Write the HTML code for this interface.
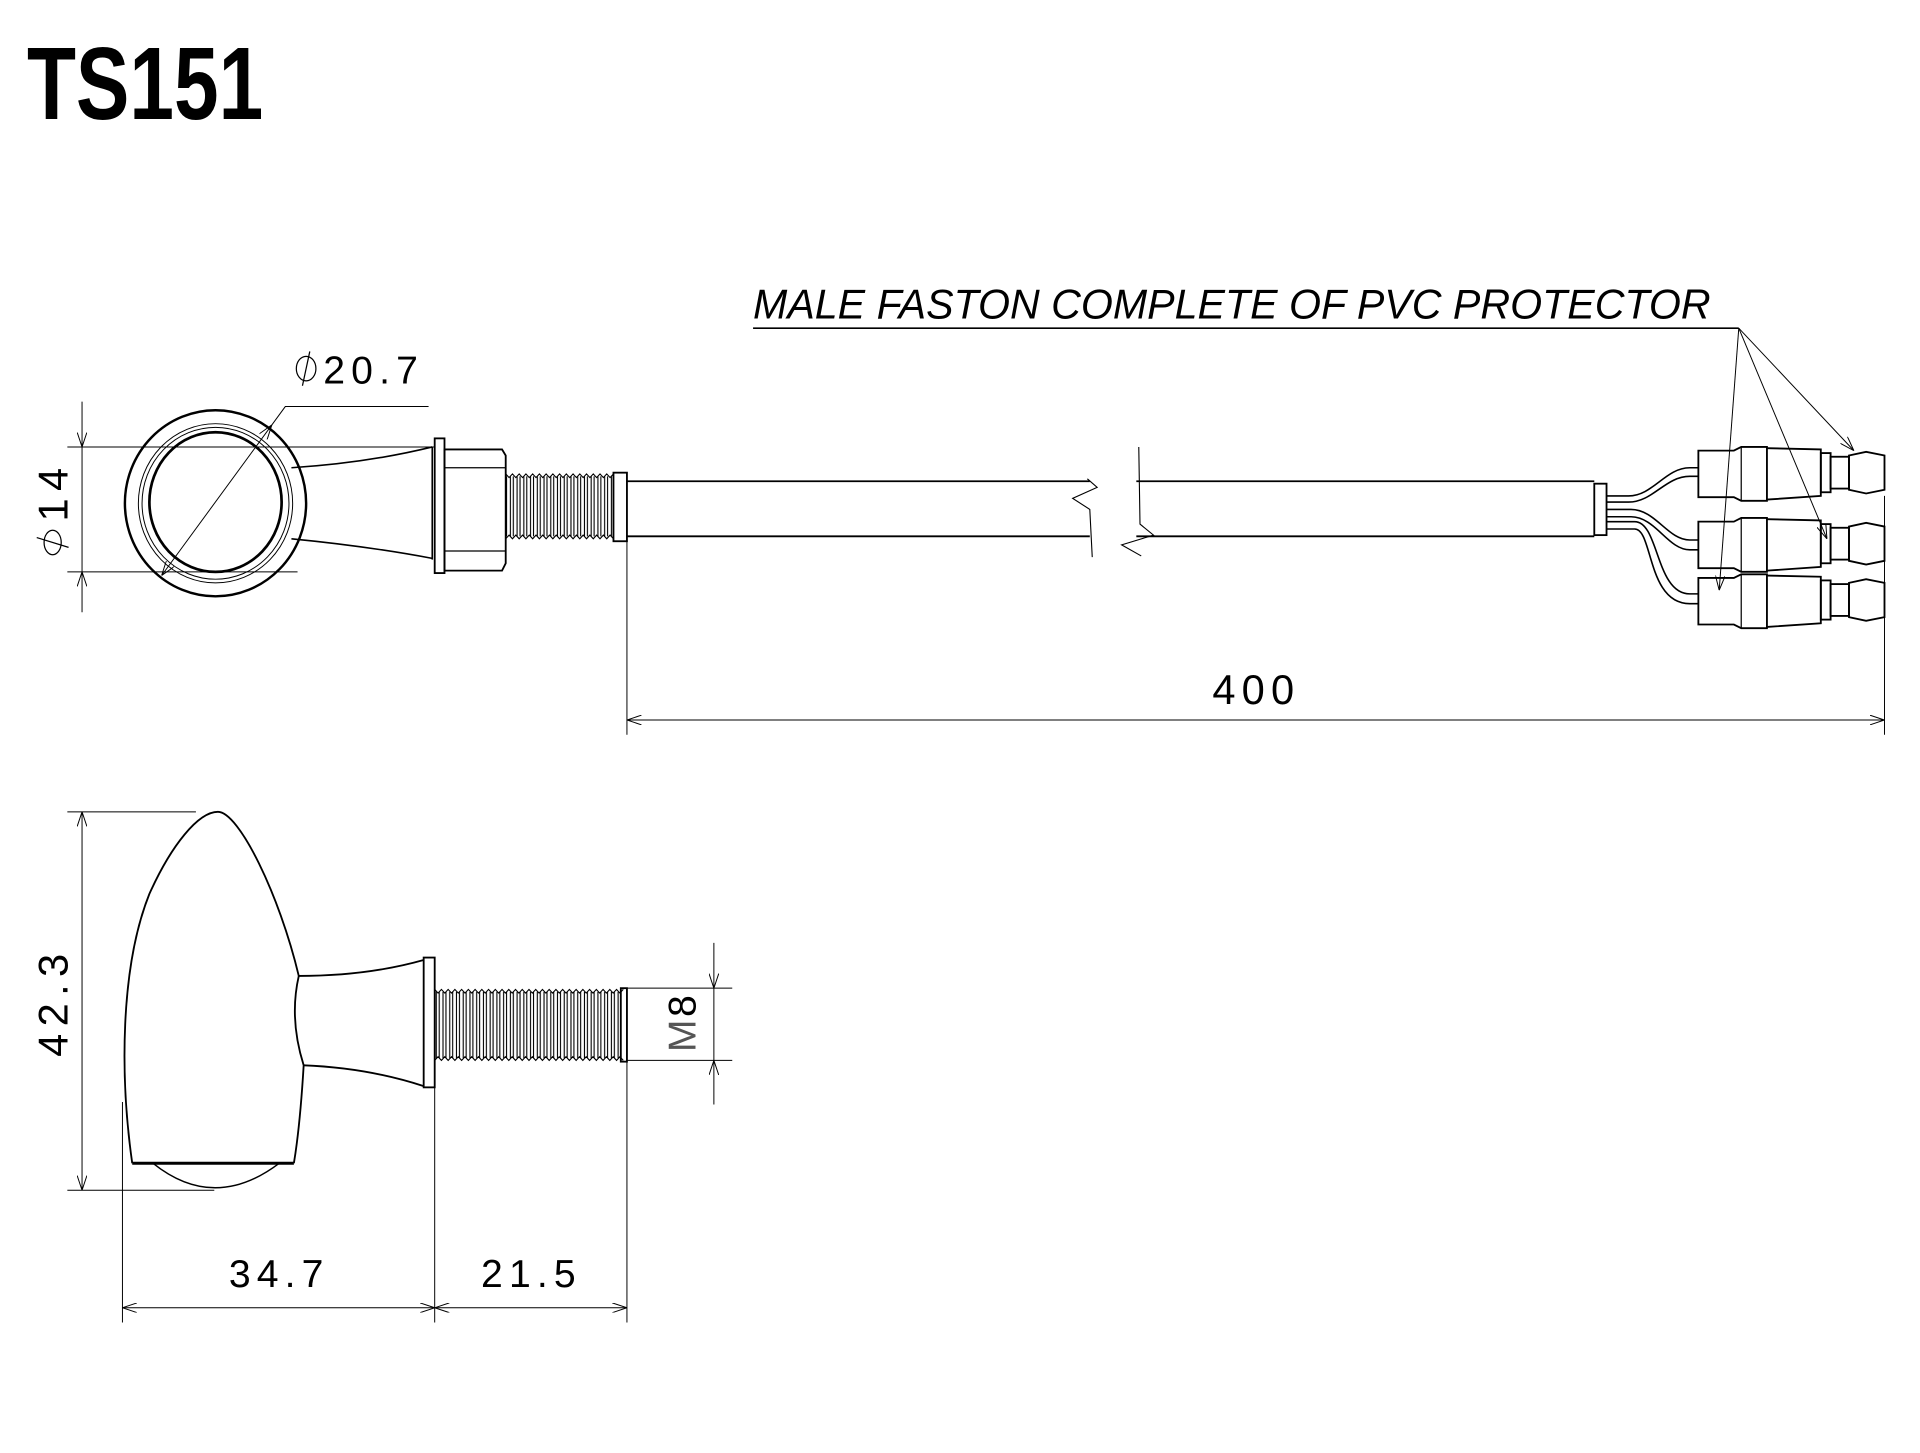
<!DOCTYPE html>
<html><head><meta charset="utf-8"><style>
html,body{margin:0;padding:0;background:#fff}
svg{display:block}
text{font-family:"Liberation Sans",sans-serif;fill:#000}
</style></head><body>
<svg width="1920" height="1453" viewBox="0 0 1568 1186.6" xmlns="http://www.w3.org/2000/svg">
<defs>
<marker id="ar" viewBox="0 0 12 8" refX="12" refY="4" markerWidth="12" markerHeight="8" markerUnits="userSpaceOnUse" orient="auto-start-reverse">
<path d="M0,0 L12,4 L0,8" fill="none" stroke="#000" stroke-width="0.8"/></marker>
<pattern id="thr" x="0" y="0" width="5.5" height="2000" patternUnits="userSpaceOnUse">
<path d="M1.2,0 L1.2,2000 M4.3,0 L4.3,2000" fill="none" stroke="#000" stroke-width="0.9"/></pattern>
</defs>
<text x="22" y="97" font-size="84" font-weight="bold" textLength="193" lengthAdjust="spacingAndGlyphs">TS151</text>

<!-- TOP VIEW -->
<g fill="none" stroke="#000">
<ellipse cx="176" cy="411" rx="74" ry="76" stroke-width="2"/>
<ellipse cx="176" cy="411" rx="63" ry="65" stroke-width="0.8"/>
<ellipse cx="176" cy="411" rx="60" ry="62" stroke-width="0.8"/>
<ellipse cx="176" cy="410" rx="54" ry="57" stroke-width="2.2"/>
<path d="M238,382 Q300,378 353,365" stroke-width="1.3"/>
<path d="M238,440 Q300,446 353,456" stroke-width="1.3"/>
<line x1="353" y1="365" x2="353" y2="457" stroke-width="1.3"/>
<rect x="355" y="358" width="8" height="110" stroke-width="1.5"/>
<path d="M363,367 L410,367 L413,372 L413,460 L410,466 L363,466 Z" stroke-width="1.5"/>
<line x1="363" y1="382" x2="413" y2="382" stroke-width="1"/>
<line x1="363" y1="450" x2="413" y2="450" stroke-width="1"/>
</g>
<rect x="413" y="389" width="88" height="49" fill="url(#thr)"/>
<g fill="none" stroke="#000">
<path d="M413,387 l2.75,3 l2.75,-3 l2.75,3 l2.75,-3 l2.75,3 l2.75,-3 l2.75,3 l2.75,-3 l2.75,3 l2.75,-3 l2.75,3 l2.75,-3 l2.75,3 l2.75,-3 l2.75,3 l2.75,-3 l2.75,3 l2.75,-3 l2.75,3 l2.75,-3 l2.75,3 l2.75,-3 l2.75,3 l2.75,-3 l2.75,3 l2.75,-3 l2.75,3 l2.75,-3 l2.75,3 l2.75,-3 l2.75,3 l2.75,-3" stroke-width="0.9"/>
<path d="M413,440 l2.75,-3 l2.75,3 l2.75,-3 l2.75,3 l2.75,-3 l2.75,3 l2.75,-3 l2.75,3 l2.75,-3 l2.75,3 l2.75,-3 l2.75,3 l2.75,-3 l2.75,3 l2.75,-3 l2.75,3 l2.75,-3 l2.75,3 l2.75,-3 l2.75,3 l2.75,-3 l2.75,3 l2.75,-3 l2.75,3 l2.75,-3 l2.75,3 l2.75,-3 l2.75,3 l2.75,-3 l2.75,3 l2.75,-3 l2.75,3" stroke-width="0.9"/>
<rect x="501" y="386" width="11" height="56" stroke-width="1.5"/>
<line x1="512" y1="393" x2="890" y2="393" stroke-width="1.5"/>
<line x1="512" y1="438" x2="890" y2="438" stroke-width="1.5"/>
<line x1="928" y1="393" x2="1302" y2="393" stroke-width="1.5"/>
<line x1="928" y1="438" x2="1302" y2="438" stroke-width="1.5"/>
<path d="M892,455 L890,416 L876,407 L896,398 L888,391" stroke-width="0.9"/>
<path d="M930,365 L931,428 L942,437 L916,445 L932,454" stroke-width="0.9"/>
<rect x="1302" y="395" width="10" height="42" stroke-width="1.5"/>
<path d="M1312,405 L1330,405 C1350,405 1360,382 1380,382 L1387,382" stroke-width="1.3"/>
<path d="M1312,410 L1330,410 C1350,410 1360,389 1380,389 L1387,389" stroke-width="1.3"/>
<path d="M1312,416 L1332,416 C1352,416 1362,441 1380,441 L1387,441" stroke-width="1.3"/>
<path d="M1312,422 L1332,422 C1352,422 1362,449 1380,449 L1387,449" stroke-width="1.3"/>
<path d="M1312,426 L1335,426 C1355,426 1352,485 1380,485 L1387,485" stroke-width="1.3"/>
<path d="M1312,432 L1335,432 C1350,432 1345,493 1380,493 L1387,493" stroke-width="1.3"/>
</g>
<g id="con" fill="none" stroke="#000" stroke-width="1.5">
<path d="M1387,368 L1416,368 L1422,365 L1443,365 L1443,409 L1422,409 L1416,406 L1387,406 Z"/>
<line x1="1422" y1="365" x2="1422" y2="409" stroke-width="1"/>
<path d="M1443,366 L1487,367 L1487,405 L1443,408"/>
<rect x="1487" y="370" width="8" height="32"/>
<rect x="1495" y="373" width="15" height="26"/>
<path d="M1510,372 L1524,369 L1539,372 L1539,400 L1524,403 L1510,400 Z"/>
</g>
<use href="#con" transform="translate(0,58)"/>
<use href="#con" transform="translate(0,104)"/>

<g stroke="#000" stroke-width="0.8" fill="none">
<line x1="55" y1="365" x2="355" y2="365"/>
<line x1="55" y1="467" x2="243" y2="467"/>
<line x1="67" y1="328" x2="67" y2="365" marker-end="url(#ar)"/>
<line x1="67" y1="500" x2="67" y2="467" marker-end="url(#ar)"/>
<line x1="67" y1="365" x2="67" y2="467"/>
<line x1="132" y1="470" x2="222" y2="347" marker-start="url(#ar)" marker-end="url(#ar)"/>
<polyline points="222,347 233,332 350,332"/>
<line x1="512" y1="442" x2="512" y2="600"/>
<line x1="1539" y1="405" x2="1539" y2="600"/>
<line x1="512" y1="588" x2="1539" y2="588" marker-start="url(#ar)" marker-end="url(#ar)"/>
<line x1="615" y1="268" x2="1420" y2="268" stroke-width="1.3"/>
<line x1="1420" y1="268" x2="1404" y2="482" marker-end="url(#ar)"/>
<line x1="1420" y1="268" x2="1492" y2="440" marker-end="url(#ar)"/>
<line x1="1420" y1="268" x2="1514" y2="368" marker-end="url(#ar)"/>
</g>
<text font-size="34" letter-spacing="6" transform="translate(55,401) rotate(-90)" text-anchor="middle">14</text>
<g transform="translate(43,443)" fill="none" stroke="#000" stroke-width="1"><ellipse cx="0" cy="0" rx="7" ry="10"/><line x1="-13" y1="-4" x2="13" y2="4"/></g>
<g transform="translate(250,301)" fill="none" stroke="#000" stroke-width="1"><ellipse cx="0" cy="0" rx="8" ry="10"/><line x1="3" y1="-14" x2="-3" y2="14"/></g>
<text x="264" y="313" font-size="32" letter-spacing="5">20.7</text>
<text x="1026" y="575" font-size="34" letter-spacing="5" text-anchor="middle">400</text>
<text x="615" y="260" font-size="34" font-style="italic" textLength="782" lengthAdjust="spacingAndGlyphs">MALE FASTON COMPLETE OF PVC PROTECTOR</text>

<!-- SIDE VIEW -->
<g fill="none" stroke="#000" stroke-width="1.5">
<path d="M108,950 C98,880 98,790 122,730 C140,690 162,663 178,663 C195,663 228,730 244,797"/>
<path d="M244,797 Q236,832 248,870 Q245,920 240,950"/>
<line x1="108" y1="950" x2="240" y2="950" stroke-width="2.5"/>
<path d="M125,950 Q175,990 228,950" stroke-width="1.2"/>
<path d="M244,797 Q300,797 346,784"/>
<path d="M248,870 Q300,872 346,887"/>
<rect x="346" y="782" width="9" height="106"/>
</g>
<rect x="355" y="810" width="152" height="54" fill="url(#thr)"/>
<g fill="none" stroke="#000">
<path d="M355,808 l2.75,3 l2.75,-3 l2.75,3 l2.75,-3 l2.75,3 l2.75,-3 l2.75,3 l2.75,-3 l2.75,3 l2.75,-3 l2.75,3 l2.75,-3 l2.75,3 l2.75,-3 l2.75,3 l2.75,-3 l2.75,3 l2.75,-3 l2.75,3 l2.75,-3 l2.75,3 l2.75,-3 l2.75,3 l2.75,-3 l2.75,3 l2.75,-3 l2.75,3 l2.75,-3 l2.75,3 l2.75,-3 l2.75,3 l2.75,-3 l2.75,3 l2.75,-3 l2.75,3 l2.75,-3 l2.75,3 l2.75,-3 l2.75,3 l2.75,-3 l2.75,3 l2.75,-3 l2.75,3 l2.75,-3 l2.75,3 l2.75,-3 l2.75,3 l2.75,-3 l2.75,3 l2.75,-3 l2.75,3 l2.75,-3 l2.75,3 l2.75,-3 l2.75,3 l2.75,-3" stroke-width="0.9"/>
<path d="M355,866 l2.75,-3 l2.75,3 l2.75,-3 l2.75,3 l2.75,-3 l2.75,3 l2.75,-3 l2.75,3 l2.75,-3 l2.75,3 l2.75,-3 l2.75,3 l2.75,-3 l2.75,3 l2.75,-3 l2.75,3 l2.75,-3 l2.75,3 l2.75,-3 l2.75,3 l2.75,-3 l2.75,3 l2.75,-3 l2.75,3 l2.75,-3 l2.75,3 l2.75,-3 l2.75,3 l2.75,-3 l2.75,3 l2.75,-3 l2.75,3 l2.75,-3 l2.75,3 l2.75,-3 l2.75,3 l2.75,-3 l2.75,3 l2.75,-3 l2.75,3 l2.75,-3 l2.75,3 l2.75,-3 l2.75,3 l2.75,-3 l2.75,3 l2.75,-3 l2.75,3 l2.75,-3 l2.75,3 l2.75,-3 l2.75,3 l2.75,-3 l2.75,3 l2.75,-3 l2.75,3" stroke-width="0.9"/>
<rect x="507" y="807" width="5" height="60" stroke-width="1.5"/>
</g>
<g stroke="#000" stroke-width="0.8" fill="none">
<line x1="55" y1="663" x2="160" y2="663"/>
<line x1="55" y1="972" x2="175" y2="972"/>
<line x1="67" y1="663" x2="67" y2="972" marker-start="url(#ar)" marker-end="url(#ar)"/>
<line x1="100" y1="900" x2="100" y2="1080"/>
<line x1="355" y1="888" x2="355" y2="1080"/>
<line x1="512" y1="867" x2="512" y2="1080"/>
<line x1="100" y1="1068" x2="355" y2="1068" marker-start="url(#ar)" marker-end="url(#ar)"/>
<line x1="355" y1="1068" x2="512" y2="1068" marker-start="url(#ar)" marker-end="url(#ar)"/>
<line x1="512" y1="807" x2="598" y2="807"/>
<line x1="512" y1="866" x2="598" y2="866"/>
<line x1="583" y1="770" x2="583" y2="807" marker-end="url(#ar)"/>
<line x1="583" y1="902" x2="583" y2="866" marker-end="url(#ar)"/>
<line x1="583" y1="807" x2="583" y2="866"/>
</g>
<text font-size="34" letter-spacing="6" transform="translate(55,818) rotate(-90)" text-anchor="middle">42.3</text>
<text x="228" y="1051" font-size="32" letter-spacing="5" text-anchor="middle">34.7</text>
<text x="434" y="1051" font-size="32" letter-spacing="5" text-anchor="middle">21.5</text>
<text transform="translate(568,836) rotate(-90)" font-size="32" text-anchor="middle"><tspan font-weight="100" fill="#555">M</tspan><tspan dx="2">8</tspan></text>
</svg>
</body></html>
